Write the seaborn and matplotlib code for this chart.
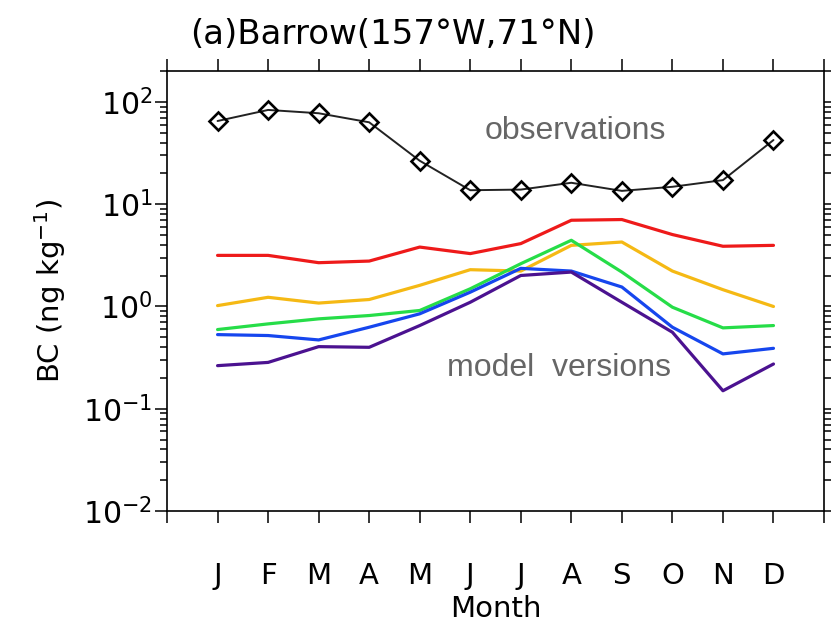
import matplotlib
matplotlib.use("Agg")
import matplotlib.pyplot as plt
import seaborn as sns
import pandas as pd

# Monthly BC at Barrow
months = ['J', 'F', 'M', 'A', 'M', 'J', 'J', 'A', 'S', 'O', 'N', 'D']
month_idx = list(range(1, 13))

obs = [65.1, 83.5, 77.5, 63.2, 26.6, 13.7, 13.9, 16.2, 13.5, 14.8, 17.2, 42.4]

model_red = [3.16, 3.16, 2.68, 2.78, 3.81, 3.29, 4.12, 6.97, 7.08, 5.05, 3.88, 3.96]
model_yellow = [1.02, 1.23, 1.08, 1.17, 1.61, 2.29, 2.22, 3.96, 4.27, 2.22, 1.46, 1.00]
model_green = [0.595, 0.676, 0.757, 0.816, 0.914, 1.49, 2.62, 4.44, 2.17, 0.984, 0.618, 0.651]
model_blue = [0.531, 0.520, 0.471, 0.627, 0.848, 1.38, 2.36, 2.22, 1.55, 0.627, 0.344, 0.390]
model_purple = [0.264, 0.284, 0.405, 0.399, 0.651, 1.10, 2.01, 2.17, 1.10, 0.560, 0.150, 0.274]

model_names = ['red', 'yellow', 'green', 'blue', 'purple']
model_colors = ['#ee1a1a', '#f5b914', '#26dd48', '#1646ee', '#4b1290']

# long table for seaborn
rows = []
for name, vals in zip(model_names, [model_red, model_yellow, model_green, model_blue, model_purple]):
    for m, v in zip(month_idx, vals):
        rows.append({'month': m, 'bc': v, 'version': name})
df_models = pd.DataFrame(rows)
df_obs = pd.DataFrame({'month': month_idx, 'bc': obs})

sns.set_style("ticks")
plt.rcParams['font.family'] = ['DejaVu Sans']
plt.rcParams['mathtext.fontset'] = 'dejavusans'
plt.rcParams['text.color'] = 'black'
plt.rcParams['axes.labelcolor'] = 'black'
plt.rcParams['xtick.color'] = 'black'
plt.rcParams['ytick.color'] = 'black'

fig = plt.figure(figsize=(8.31, 6.24), dpi=100)
ax = fig.add_axes([0.201, 0.181, 0.7906, 0.705])

sns.lineplot(data=df_models, x='month', y='bc', hue='version',
             palette=dict(zip(model_names, model_colors)),
             linewidth=2.3, legend=False, ax=ax)
sns.lineplot(data=df_obs, x='month', y='bc', color='#222222', linewidth=1.4,
             marker='D', markersize=9.5, markerfacecolor='none',
             markeredgecolor='black', markeredgewidth=1.9, ax=ax)

ax.set_yscale('log')
ax.set_ylim(1e-2, 200)
ax.set_xlim(0, 13)
ax.set_xticks(range(0, 14))
ax.set_xticklabels([''] + months + [''])

for s in ax.spines.values():
    s.set_linewidth(1.2)
    s.set_color('black')

ax.tick_params(axis='both', which='both', direction='out', top=True, right=True,
               width=1.1, color='black', labelcolor='black')
ax.tick_params(axis='x', which='major', length=8.6, pad=28, labelsize=21)
ax.tick_params(axis='x', which='minor', bottom=False, top=False)
ax.tick_params(axis='y', which='major', length=8.6, pad=2, labelsize=21.5)
ax.tick_params(axis='y', which='minor', length=5)

ax.set_xlabel('Month', fontsize=21, labelpad=4)
ax.set_ylabel('BC (ng kg$^{-1}$)', fontsize=21)
ax.yaxis.set_label_coords(-0.150, 0.5)

ax.text(0.621, 0.864, 'observations', transform=ax.transAxes, ha='center', va='center',
        fontsize=23, color='#666666', family=['Liberation Sans', 'DejaVu Sans'])
ax.text(0.597, 0.325, 'model  versions', transform=ax.transAxes, ha='center', va='center',
        fontsize=23, color='#666666', family=['Liberation Sans', 'DejaVu Sans'])

fig.text(0.229, 0.944, '(a)Barrow(157°W,71°N)', ha='left', va='center', fontsize=24.5)

fig.savefig('out.png', dpi=100)
